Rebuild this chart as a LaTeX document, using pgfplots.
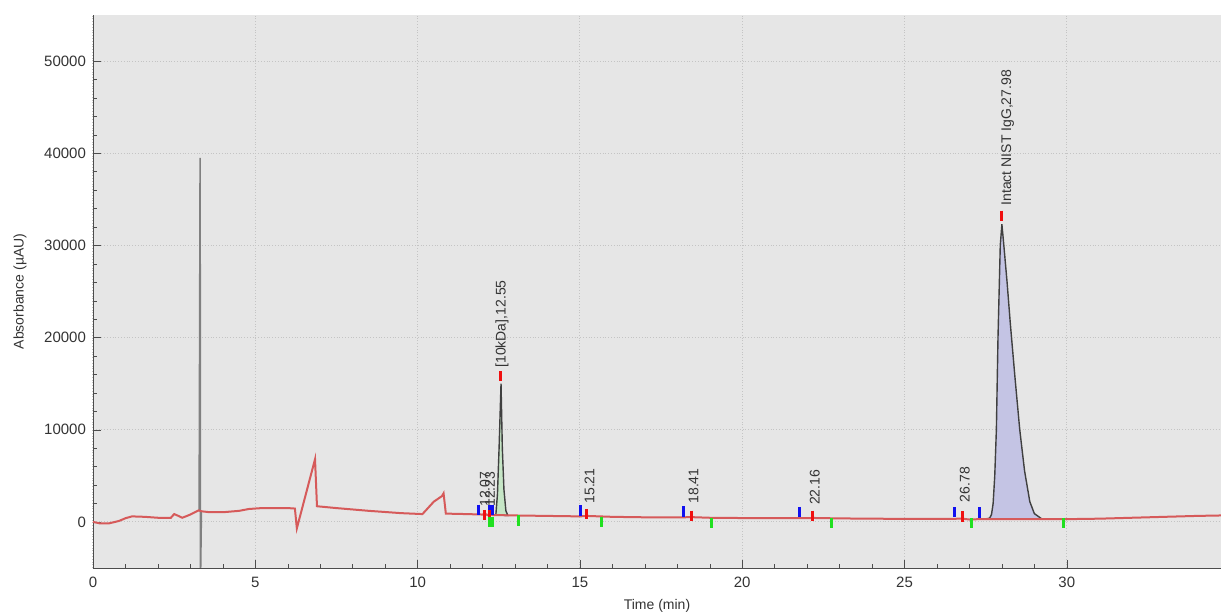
\documentclass[border=0pt]{standalone}
\usepackage{fontspec}
\setmainfont{Liberation Sans}
\usepackage{pgfplots}
\pgfplotsset{compat=1.18}
\definecolor{bgGray}{HTML}{E6E6E6}
\definecolor{gridGray}{HTML}{C4C4C4}
\definecolor{traceRed}{HTML}{D65A5A}
\definecolor{peakGreen}{HTML}{C6E6C6}
\definecolor{peakBlue}{HTML}{C4C4E4}
\definecolor{mkBlue}{HTML}{1010F0}
\definecolor{mkRed}{HTML}{F01010}
\definecolor{mkGreen}{HTML}{20E020}
\definecolor{txtGray}{HTML}{333333}
\begin{document}
\begin{tikzpicture}
\begin{axis}[
  scale only axis, width=564pt, height=276.5pt,
  xmin=0, xmax=34.75, ymin=-5000, ymax=55000,
  axis lines=left, axis line style={black!70, -},
  axis background/.style={fill=bgGray},
  xtick={0,5,...,30}, ytick={0,10000,...,50000},
  scaled y ticks=false,
  minor x tick num=4, minor y tick num=4,
  tick align=inside, tick style={black!70},
  major tick length=4pt, minor tick length=2pt,
  grid=major, major grid style={gridGray, densely dotted, line width=0.5pt},
  /pgf/number format/1000 sep={},
  /pgf/number format/assume math mode=true,
  ticklabel style={font=\fontsize{7.5}{9}\selectfont, text=txtGray},
  xticklabel style={yshift=-1pt},
  xlabel={Time (min)}, ylabel={Absorbance (µAU)},
  label style={font=\fontsize{7}{8}\selectfont, text=txtGray},
  xlabel style={yshift=1pt},
  ylabel style={yshift=2pt},
  clip=true,
]
% solvent spike
\addplot[gray, line width=0.8pt] coordinates {(3.27,1250)(3.30,39500)(3.31,-7000)(3.34,1150)};
% peak fills
\addplot[draw=black!75, fill=peakGreen, line width=0.7pt] coordinates {
(12.41,750)(12.46,3000)(12.51,8000)(12.57,15000)(12.61,8000)(12.66,3500)(12.72,1200)(12.78,700)} -- cycle;
\addplot[draw=black!75, fill=peakBlue, line width=0.7pt] coordinates {
(27.45,300)(27.62,400)(27.68,800)(27.73,2000)(27.78,5000)(27.83,10000)(27.88,20000)(27.95,30000)(28.00,32300)(28.06,30000)(28.16,26000)(28.26,21500)(28.40,15800)(28.55,10000)(28.70,5500)(28.86,2200)(29.00,900)(29.22,350)} -- cycle;
% trace
\addplot[traceRed, line width=1pt] coordinates {
(0,0)(0.2,-150)(0.5,-150)(0.8,100)(1.0,400)(1.2,600)(1.6,550)(2.0,450)(2.4,450)(2.5,850)(2.6,700)(2.75,450)(3.0,800)(3.25,1250)(3.35,1150)(3.6,1050)(4.0,1050)(4.5,1200)(4.8,1400)(5.2,1500)(6.0,1500)(6.22,1450)(6.28,-700)(6.84,6800)(6.90,1700)(7.5,1500)(8.5,1200)(9.5,950)(10.15,850)(10.5,2200)(10.75,2800)(10.80,3100)(10.87,900)(11.5,850)(12.0,800)(12.07,900)(12.15,750)(12.23,850)(12.3,750)(13,700)(14,650)(15,600)(15.21,650)(16,550)(17,500)(18,480)(18.41,520)(19,450)(20,420)(21,420)(22,400)(22.16,430)(23,380)(24,350)(25,330)(26,320)(26.78,350)(27,260)(27.3,300)(28,300)(30,300)(31,350)(32,450)(33,550)(34,650)(34.75,700)};
% peak start / apex / end markers
\addplot[only marks, mark=|, mark size=2.6pt, mkBlue, line width=1.5pt] coordinates {
(11.89,1300)(12.20,1300)(12.30,1300)(15.03,1250)(18.20,1150)(21.77,1080)(26.55,1050)(27.30,1000)};
\addplot[only marks, mark=|, mark size=2.6pt, mkRed, line width=1.5pt] coordinates {
(12.07,750)(12.23,750)(12.55,15800)(15.21,850)(18.45,650)(22.17,650)(26.80,600)(27.98,33200)};
\addplot[only marks, mark=|, mark size=2.6pt, mkGreen, line width=1.5pt] coordinates {
(12.20,0)(12.30,0)(13.12,150)(15.68,0)(19.06,-100)(22.76,-100)(27.07,-150)(29.90,-100)};
% peak labels
\begin{scope}[every node/.style={rotate=90, anchor=west, inner sep=0pt, text=txtGray, font=\fontsize{7}{8}\selectfont}]
\node at (axis cs:12.07,1600) {12.07};
\node at (axis cs:12.23,1600) {12.23};
\node at (axis cs:12.60,16700) {[10kDa],12.55};
\node at (axis cs:15.30,1950) {15.21};
\node at (axis cs:18.50,1950) {18.41};
\node at (axis cs:22.24,1800) {22.16};
\node at (axis cs:26.86,2100) {26.78};
\node at (axis cs:28.18,34300) {Intact NIST IgG,27.98};
\end{scope}
\end{axis}
\pgfresetboundingbox
\path[use as bounding box] ([shift={(-46.5pt,-23pt)}]current axis.south west) rectangle ([shift={(0pt,7.5pt)}]current axis.north east);
\end{tikzpicture}
\end{document}
